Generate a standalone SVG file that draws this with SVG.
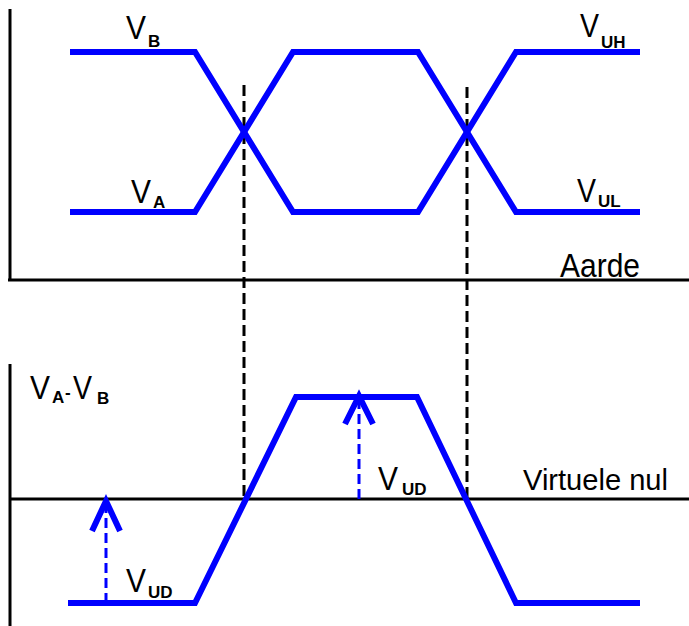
<svg xmlns="http://www.w3.org/2000/svg" width="689" height="626" viewBox="0 0 689 626">
<style>
.axis{stroke:#000;stroke-width:3;fill:none}
.guide{stroke:#000;stroke-width:3;stroke-dasharray:11 5;fill:none}
.wave{stroke:#0000ff;stroke-width:6;fill:none;stroke-linejoin:miter}
.shaft{stroke:#0000ff;stroke-width:3;stroke-dasharray:10 5;fill:none}
.head{stroke:#0000ff;stroke-width:6;fill:none;stroke-linecap:butt}
.v{font-family:"Liberation Sans",Arial,sans-serif;font-size:33px;fill:#000}
.s{font-family:"Liberation Sans",Arial,sans-serif;font-size:17px;font-weight:bold;fill:#000}
.lbl{font-family:"Liberation Sans",Arial,sans-serif;fill:#000}
</style>
<rect width="689" height="626" fill="#fff"/>
<g id="axes">
<path class="axis" d="M10,9 V281 M8,280 H689"/>
<path class="axis" d="M10,364 V626 M10,499 H689"/>
</g>
<g id="connectors">
<path class="guide" d="M244,85 V499"/>
<path class="guide" d="M467,87 V499"/>
<path class="shaft" d="M106,603 V505"/>
<path class="head" d="M92,531 L106,501 L120,531"/>
<path class="shaft" d="M359,499 V401"/>
<path class="head" d="M345,424 L359,396 L373,424"/>
</g>
<g id="signal-B">
<path class="wave" d="M70,52 H195 L293,212 H418 L516,52 H640"/>
</g>
<g id="signal-A">
<path class="wave" d="M70,212 H195 L293,52 H418 L516,212 H640"/>
</g>
<g id="signal-diff">
<path class="wave" d="M68,603 H195 L296,397 H417 L516,603 H640"/>
</g>
<g id="labels">
<text class="v" x="126" y="39" textLength="20" lengthAdjust="spacingAndGlyphs">V</text><text class="s" x="148" y="47">B</text>
<text class="v" x="131" y="203" textLength="20" lengthAdjust="spacingAndGlyphs">V</text><text class="s" x="153" y="208">A</text>
<text class="v" x="580" y="37" textLength="19" lengthAdjust="spacingAndGlyphs">V</text><text class="s" x="601" y="48">UH</text>
<text class="v" x="577" y="202" textLength="19" lengthAdjust="spacingAndGlyphs">V</text><text class="s" x="598" y="207">UL</text>
<text class="lbl" x="560" y="277" font-size="33" textLength="80" lengthAdjust="spacingAndGlyphs">Aarde</text>
<text class="lbl" x="523" y="490" font-size="29" textLength="145" lengthAdjust="spacingAndGlyphs">Virtuele nul</text>
<text class="v" x="30" y="399" textLength="20" lengthAdjust="spacingAndGlyphs">V</text><text class="s" x="52" y="403">A</text><text class="s" x="65" y="398" font-size="20">-</text><text class="v" x="73" y="399" textLength="19" lengthAdjust="spacingAndGlyphs">V</text><text class="s" x="97" y="404">B</text>
<text class="v" x="378" y="490" textLength="20" lengthAdjust="spacingAndGlyphs">V</text><text class="s" x="402" y="495">UD</text>
<text class="v" x="126" y="592" textLength="20" lengthAdjust="spacingAndGlyphs">V</text><text class="s" x="148" y="598">UD</text>
</g>
</svg>
